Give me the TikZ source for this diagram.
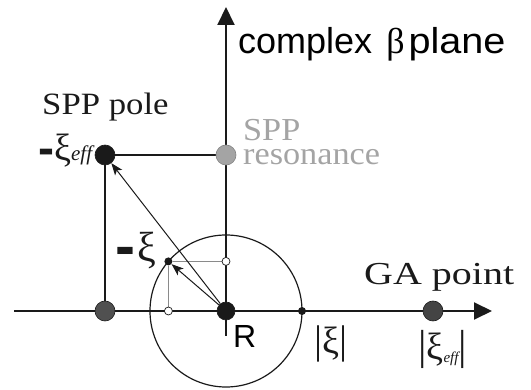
\documentclass[tikz,border=0pt]{standalone}
\usepackage{fontspec}
\usepackage{graphicx}
\setmainfont{Liberation Serif}
\setsansfont{Liberation Sans}
\usetikzlibrary{arrows.meta}
\pgfdeclarelayer{bg}
\pgfsetlayers{bg,main}
\newcommand\fsz[1]{\fontsize{#1}{#1}\selectfont}
\definecolor{ink}{HTML}{1A1A1A}
\definecolor{resgray}{HTML}{A4A4A4}
\definecolor{dgray}{HTML}{505050}
\definecolor{gagray}{HTML}{444444}
\definecolor{guidegray}{HTML}{8A8A8A}
\begin{document}
\begin{tikzpicture}[x=1pt,y=-1pt,
  bigdot/.style={circle,inner sep=0,minimum size=20pt,draw=ink,line width=0.6pt},
  smalldot/.style={circle,inner sep=0,minimum size=8pt,fill=ink},
  hollow/.style={circle,inner sep=0,minimum size=8pt,draw=ink,fill=white,line width=0.7pt},
  lbl/.style={inner sep=0,anchor=base west,text=ink},
  axis/.style={line width=2pt,draw=ink,-{Triangle[length=18pt,width=17pt]}},
  frame/.style={line width=1.8pt,draw=ink},
  guide/.style={line width=1.1pt,draw=guidegray},
  ptr/.style={line width=1pt,draw=ink,-{Stealth[length=12pt,width=9pt,inset=3pt]}},
  circ/.style={line width=1.2pt,draw=ink}
]
\useasboundingbox (0,0) rectangle (531,390);
% points
\node[bigdot,fill=ink,minimum size=18pt] (O) at (226,311) {};
\node[bigdot,fill=ink] (P) at (105,155) {};
\node[bigdot,fill=resgray,draw=resgray!80!black] (S) at (226,155) {};
\node[bigdot,fill=dgray] (B) at (105,311) {};
\node[bigdot,fill=gagray] (G) at (433,311) {};
\node[smalldot] (X) at (168.4,261.4) {};
\node[smalldot] (M) at (302,311) {};
\node[hollow] (H1) at (226,261.4) {};
\node[hollow] (H2) at (168.4,311) {};
\coordinate (hL) at (14,311);
\coordinate (hR) at (492,311);
\coordinate (vB) at (226,336);
\coordinate (vT) at (226,7);
\begin{pgfonlayer}{bg}
\draw[axis] (hL) -- (hR);
\draw[axis] (vB) -- (vT);
\draw[circ] (O.center) circle[radius=76pt];
\draw[frame] (P) -- (S);
\draw[frame] (P) -- (B);
\draw[guide] (X) -- (H1);
\draw[guide] (X) -- (H2);
\draw[ptr] (O) -- (P);
\draw[ptr] (O) -- (X);
\end{pgfonlayer}
% labels
\node[lbl,text=black] (title) at (238,54) {\sffamily\fsz{36}complex\hspace{14pt}\rmfamily β\hspace{4pt}\sffamily\scalebox{1.1}[1]{plane}};
\node[lbl] (spp) at (42,115) {\fsz{31}\scalebox{1.12}[1]{SPP pole}};
\node[lbl] (lxe) at (38,161) {\sffamily\bfseries\fsz{48}\raisebox{-4pt}{-}\rmfamily\mdseries\fsz{38}ξ\fsz{21}\itshape eff};
\node[lbl,text=resgray] (res) at (243,141) {\fsz{32}\scalebox{1.07}[1]{\vtop{\baselineskip=24pt\hbox{SPP}\hbox{resonance}}}};
\node[lbl] (lx) at (115,262) {\sffamily\bfseries\fsz{60}\raisebox{-5pt}{-}\hspace{2pt}\rmfamily\mdseries\fsz{42}ξ};
\node[lbl,text=black] (R) at (233,348) {\sffamily\fsz{32}R};
\node[lbl] (ax) at (314,354) {\fsz{40}|\fsz{38}ξ\fsz{40}|};
\node[lbl] (axe) at (418,360) {\fsz{42}|\fsz{38}ξ\fsz{15}\itshape\raisebox{-3pt}{eff}\fsz{42}\upshape|};
\node[lbl] (ga) at (364,285) {\fsz{32}\scalebox{1.25}[1]{GA point}};
\end{tikzpicture}
\end{document}
